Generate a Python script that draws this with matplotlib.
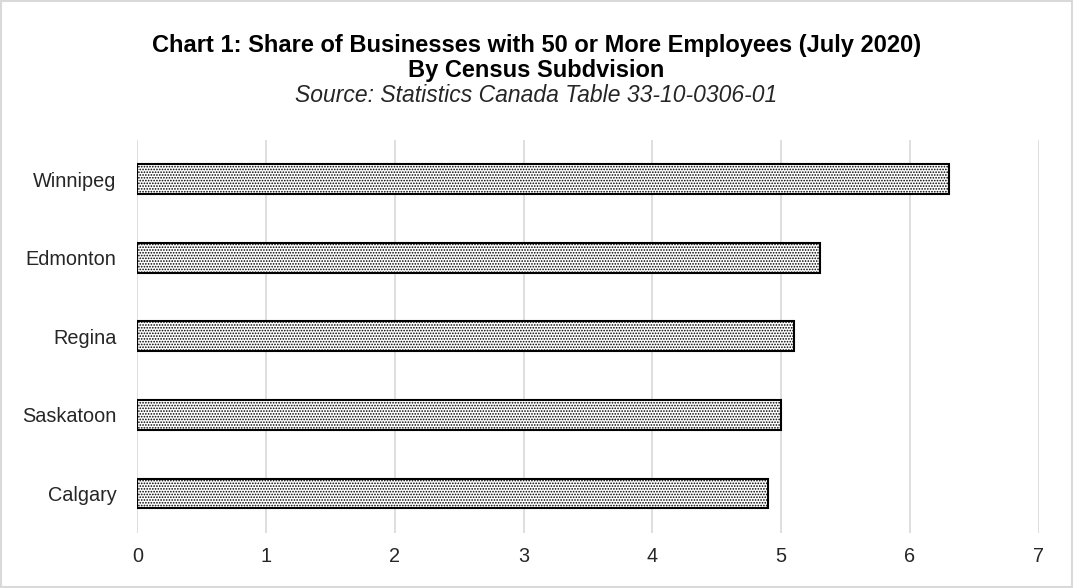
import matplotlib
matplotlib.use("Agg")
import matplotlib.pyplot as plt

cities = ["Calgary", "Saskatoon", "Regina", "Edmonton", "Winnipeg"]
share = [4.9, 5.0, 5.1, 5.3, 6.3]
x_ticks = [0, 1, 2, 3, 4, 5, 6, 7]

plt.rcParams["font.family"] = ["Liberation Sans", "DejaVu Sans"]
plt.rcParams["hatch.linewidth"] = 0.8

fig = plt.figure(figsize=(10.73, 5.88), dpi=100)
ax = fig.add_axes([0.128, 0.094, 0.840, 0.668])

ax.barh(cities, share, height=0.38, color="white", edgecolor="black",
        linewidth=1.5, hatch="......", zorder=3)

ax.set_xlim(0, 7)
ax.set_ylim(-0.5, 4.5)
ax.set_xticks(x_ticks)
ax.grid(axis="x", color="#d9d9d9", linewidth=1.2, zorder=0)
for s in ax.spines.values():
    s.set_visible(False)
ax.tick_params(length=0, labelsize=14.3, colors="#262626")
ax.tick_params(axis="x", pad=10)
ax.tick_params(axis="y", pad=15)

fig.text(0.5, 0.923, "Chart 1: Share of Businesses with 50 or More Employees (July 2020)",
         ha="center", va="center", fontsize=17, fontweight="bold")
fig.text(0.5, 0.880, "By Census Subdvision",
         ha="center", va="center", fontsize=17, fontweight="bold")
fig.text(0.5, 0.837, "Source: Statistics Canada Table 33-10-0306-01",
         ha="center", va="center", fontsize=16.5, style="italic", color="#262626")

# light frame around the whole chart
fig.patches.append(plt.Rectangle((0.001, 0.001), 0.998, 0.997, transform=fig.transFigure,
                                 fill=False, edgecolor="#d9d9d9", linewidth=1.5))

plt.savefig("out.png", dpi=100)
